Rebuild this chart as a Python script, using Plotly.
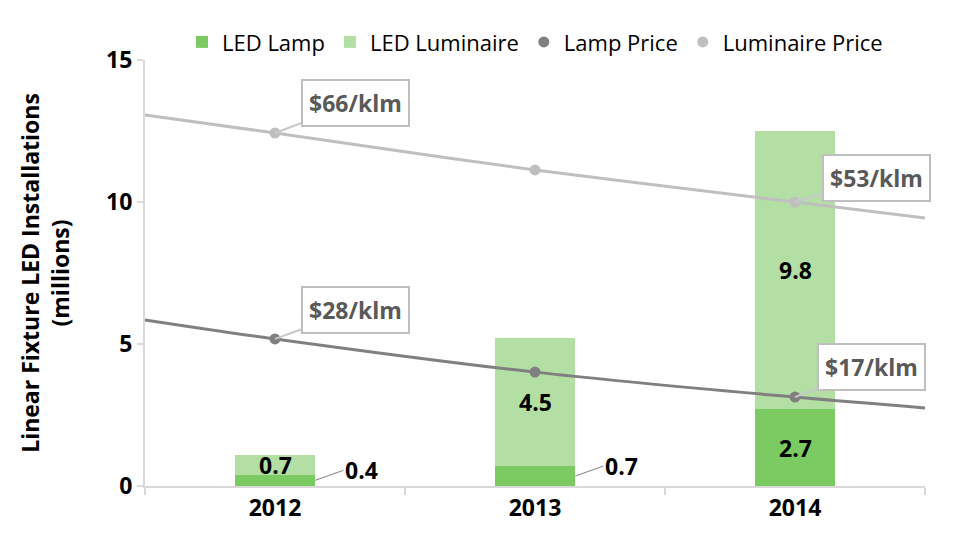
import plotly.graph_objects as go

years = ["2012", "2013", "2014"]
xpos = [0, 1, 2]
led_lamp = [0.4, 0.7, 2.7]
led_luminaire = [0.7, 4.5, 9.8]

# price markers, plotted on the installations scale as in the source chart
lamp_price_pts = [5.18, 4.01, 3.13]
lum_price_pts = [12.43, 11.13, 10.0]
lamp_price_lbl = ["$28/klm", "", "$17/klm"]
lum_price_lbl = ["$66/klm", "", "$53/klm"]

# trend lines (x in category units)
trend_x = [-0.5, 0, 1, 2, 2.5]
lamp_trend = [5.85, 5.18, 4.01, 3.13, 2.75]
lum_trend = [13.06, 12.43, 11.13, 10.0, 9.44]

c_lamp = "#7CCB62"
c_lum = "#B3DFA4"
c_lamp_price = "#808080"
c_lum_price = "#BFBFBF"
font = "'Open Sans', Lato, sans-serif"

fig = go.Figure()
fig.add_trace(go.Bar(x=xpos, y=led_lamp, name="LED Lamp", marker=dict(color=c_lamp, line_width=0), width=0.31))
fig.add_trace(go.Bar(x=xpos, y=led_luminaire, name="LED Luminaire", marker=dict(color=c_lum, line_width=0), width=0.31))

fig.add_trace(go.Scatter(x=trend_x, y=lamp_trend, mode="lines", line=dict(color=c_lamp_price, width=3, shape="spline"),
                         showlegend=False, hoverinfo="skip"))
fig.add_trace(go.Scatter(x=trend_x, y=lum_trend, mode="lines", line=dict(color=c_lum_price, width=3, shape="spline"),
                         showlegend=False, hoverinfo="skip"))
fig.add_trace(go.Scatter(x=xpos, y=lamp_price_pts, mode="markers", name="Lamp Price",
                         marker=dict(color=c_lamp_price, size=11)))
fig.add_trace(go.Scatter(x=xpos, y=lum_price_pts, mode="markers", name="Luminaire Price",
                         marker=dict(color=c_lum_price, size=11)))

lbl_font = dict(family=font, size=23, color="black")

# luminaire labels in the middle of the top segment
for x, a, b in zip(xpos, led_lamp, led_luminaire):
    fig.add_annotation(x=x, y=a + b / 2, text="<b>%.1f</b>" % b, showarrow=False, font=lbl_font)

# lamp labels: outside with leader for the small ones, inside for 2014
for x, a in zip(xpos, led_lamp):
    if a < 1:
        fig.add_annotation(x=x + 0.155, y=a / 2, text="<b>%.1f</b>" % a, showarrow=True,
                           arrowhead=0, arrowwidth=1, arrowcolor="#7F7F7F",
                           ax=28, ay=-10, font=lbl_font, xanchor="left")
    else:
        fig.add_annotation(x=x, y=a / 2, text="<b>%.1f</b>" % a, showarrow=False, font=lbl_font)

# price callouts
callout_font = dict(family=font, size=23, color="#595959")
for pts, lbls, offs in [(lum_price_pts, lum_price_lbl, [(80, -30), None, (81, -24)]),
                        (lamp_price_pts, lamp_price_lbl, [(80, -29), None, (76, -30)])]:
    for x, y, t, o in zip(xpos, pts, lbls, offs):
        if not t:
            continue
        fig.add_annotation(x=x, y=y, text="<b>%s</b>" % t, showarrow=True, arrowhead=0,
                           arrowwidth=2, arrowcolor="#C8C8C8", ax=o[0], ay=o[1],
                           font=callout_font, bgcolor="white", bordercolor="#BFBFBF",
                           borderwidth=2, borderpad=6)

fig.update_layout(
    width=953, height=536,
    barmode="stack",
    plot_bgcolor="white", paper_bgcolor="white",
    margin=dict(l=137, r=36, t=52, b=58, autoexpand=False),
    font=dict(family=font, size=22, color="black"),
    legend=dict(orientation="h", x=0.5, xanchor="center", y=1.042, yanchor="middle",
                traceorder="normal", font=dict(size=22), itemwidth=30, tracegroupgap=0),
    showlegend=True,
)
fig.update_xaxes(range=[-0.5, 2.5], tickvals=xpos, ticktext=["<b>%s</b>" % y for y in years],
                 showline=True, linecolor="#D9D9D9", linewidth=2, ticks="",
                 tickfont=dict(size=23),
                 minor=dict(tickvals=[-0.5, 0.5, 1.5, 2.5], ticks="outside", ticklen=7,
                            tickcolor="#D9D9D9", tickwidth=2),
                 showgrid=False, zeroline=False)
fig.update_yaxes(range=[0, 15], tickvals=[0, 5, 10, 15], ticktext=["<b>%d</b>" % v for v in [0, 5, 10, 15]],
                 showline=True, linecolor="#D9D9D9", linewidth=2, ticks="outside", ticklen=6,
                 tickcolor="#D9D9D9", tickwidth=2, tickfont=dict(size=23),
                 title=dict(text="<b>Linear Fixture LED Installations<br>(millions)</b>", font=dict(size=23),
                            standoff=30),
                 showgrid=False, zeroline=False)

fig.write_html("out.html")
